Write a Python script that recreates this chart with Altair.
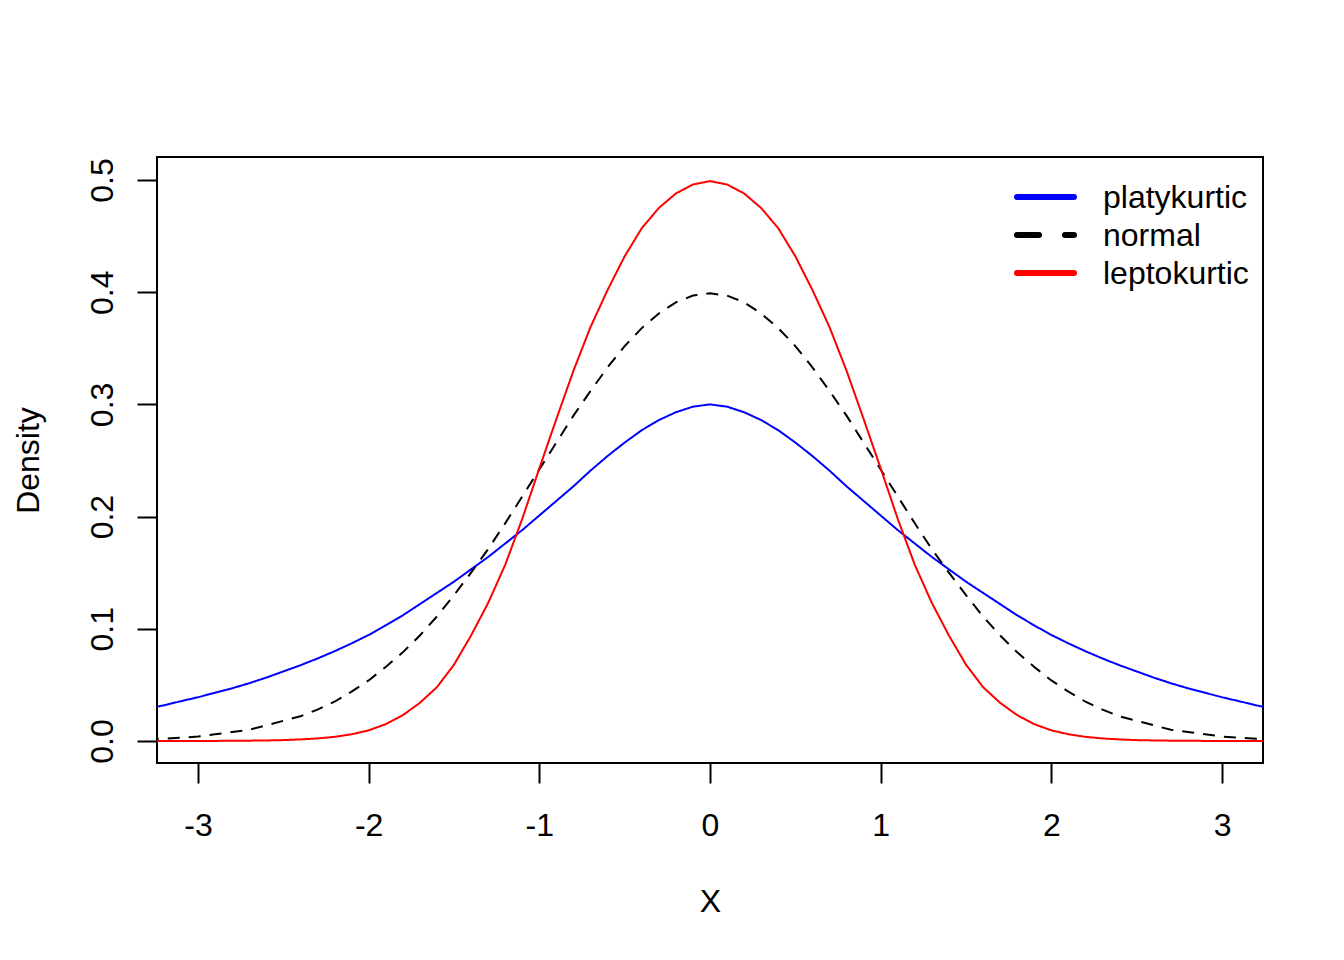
import altair as alt
import pandas as pd

# x positions (non-negative half; curves are symmetric about 0)
x_half = [0.0, 0.1, 0.2, 0.3, 0.4, 0.5, 0.6, 0.7, 0.8, 0.9,
          1.0, 1.1, 1.2, 1.3, 1.4, 1.5, 1.6, 1.7, 1.8, 1.9,
          2.0, 2.1, 2.2, 2.3, 2.4, 2.5, 2.6, 2.7, 2.8, 2.9,
          3.0, 3.1, 3.2, 3.3]

platy_half = [0.300, 0.298, 0.293, 0.286, 0.277, 0.266, 0.254, 0.241, 0.227, 0.214,
              0.201, 0.188, 0.176, 0.164, 0.153, 0.142, 0.132, 0.122, 0.112, 0.103,
              0.0945, 0.087, 0.080, 0.0735, 0.0675, 0.062, 0.0565, 0.0515, 0.047, 0.043,
              0.039, 0.0355, 0.0318, 0.0288]

normal_half = [0.399, 0.397, 0.391, 0.381, 0.368, 0.352, 0.333, 0.312, 0.290, 0.266,
               0.242, 0.218, 0.194, 0.171, 0.150, 0.130, 0.111, 0.094, 0.079, 0.066,
               0.054, 0.044, 0.035, 0.028, 0.022, 0.018, 0.014, 0.010, 0.008, 0.006,
               0.004, 0.003, 0.002, 0.002]

lepto_half = [0.499, 0.496, 0.488, 0.475, 0.457, 0.432, 0.402, 0.369, 0.330, 0.287,
              0.243, 0.198, 0.157, 0.123, 0.094, 0.068, 0.048, 0.034, 0.023, 0.015,
              0.0095, 0.006, 0.0037, 0.0023, 0.0014, 0.0008, 0.0005, 0.0003, 0.0002, 0.0001,
              0.0001, 0.0, 0.0, 0.0]

series_names = ["platykurtic", "normal", "leptokurtic"]
series_colors = ["#0000FF", "#000000", "#FF0000"]
x_ticks = [-3, -2, -1, 0, 1, 2, 3]
y_ticks = [0.0, 0.1, 0.2, 0.3, 0.4, 0.5]


def mirror(half):
    return [v for v in reversed(half[1:])] + list(half)


x_full = [-v for v in reversed(x_half[1:])] + list(x_half)
rows = []
for name, half in zip(series_names, [platy_half, normal_half, lepto_half]):
    for xv, yv in zip(x_full, mirror(half)):
        rows.append({"x": xv, "y": yv, "series": name})
df = pd.DataFrame(rows)

FONT = "Liberation Sans"
FS = 32

lines = alt.Chart(df).mark_line(strokeWidth=2, clip=True).encode(
    x=alt.X("x:Q",
            scale=alt.Scale(domain=[-3.24, 3.24], nice=False, zero=False),
            axis=alt.Axis(values=x_ticks, title="X",
                          labelExpr="datum.value < 0 ? '-' + abs(datum.value) : '' + datum.value",
                          domain=False, grid=False,
                          ticks=True, tickSize=20, tickWidth=2, tickColor="black",
                          labelFont=FONT, labelFontSize=FS, labelColor="black",
                          labelBaseline="alphabetic", labelPadding=52,
                          labelFlush=False, labelOverlap=False,
                          titleFont=FONT, titleFontSize=FS, titleFontWeight="normal",
                          titleColor="black", titleBaseline="alphabetic",
                          titleX=553, titleY=148, titleAngle=0)),
    y=alt.Y("y:Q",
            scale=alt.Scale(domain=[-0.0196, 0.5205], nice=False, zero=False),
            axis=alt.Axis(values=y_ticks, format=".1f", title="Density",
                          domain=False, grid=False,
                          ticks=True, tickSize=20, tickWidth=2, tickColor="black",
                          labelFont=FONT, labelFontSize=FS, labelColor="black",
                          labelAngle=270, labelAlign="center",
                          labelBaseline="alphabetic", labelPadding=25,
                          labelFlush=False, labelOverlap=False,
                          titleFont=FONT, titleFontSize=FS, titleFontWeight="normal",
                          titleColor="black", titleBaseline="alphabetic",
                          titleAngle=270, titleX=-119, titleY=303, titleAlign="center")),
    color=alt.Color("series:N",
                    scale=alt.Scale(domain=series_names, range=series_colors),
                    legend=None),
    strokeDash=alt.StrokeDash("series:N",
                              scale=alt.Scale(domain=series_names,
                                              range=[[1, 0], [12, 9], [1, 0]]),
                              legend=None),
)

# manual legend (R style, no box)
legend_layers = []
legend_y = [40, 78, 116]
for name, col, yy in zip(series_names, series_colors, legend_y):
    ld = alt.InlineData(values=[{"label": name}])
    dash = [22, 26] if name == "normal" else [1, 0]
    rule = alt.Chart(ld).mark_rule(
        color=col, strokeWidth=6, strokeCap="round", strokeDash=dash
    ).encode(x=alt.value(860), x2=alt.value(917), y=alt.value(yy))
    txt = alt.Chart(ld).mark_text(
        align="left", baseline="middle", font=FONT, fontSize=FS, color="black"
    ).encode(x=alt.value(946), y=alt.value(yy + 1), text="label:N")
    legend_layers += [rule, txt]

chart = alt.layer(lines, *legend_layers).properties(
    width=1106, height=606,
    autosize=alt.AutoSizeParams(type="none"),
    padding={"left": 149, "top": 149, "right": 65, "bottom": 180},
    background="white",
).configure_view(stroke="black", strokeWidth=2)

chart.save("out.html", embed_options={"renderer": "svg", "actions": False})
